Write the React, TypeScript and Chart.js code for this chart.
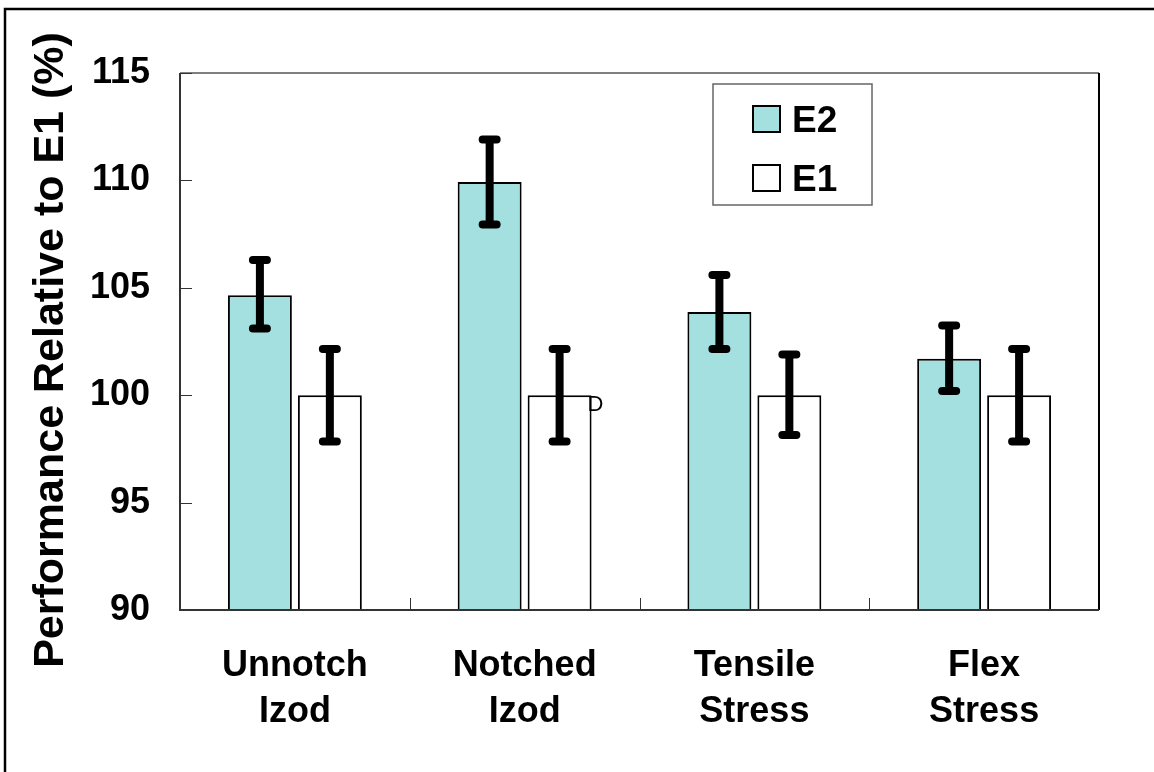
import React, { useEffect, useRef } from "react";
import { Chart, registerables } from "chart.js";

Chart.register(...registerables);

const categories: string[][] = [
  ["Unnotch", "Izod"],
  ["Notched", "Izod"],
  ["Tensile", "Stress"],
  ["Flex", "Stress"],
];
const seriesNames = ["E2", "E1"];
const e2Values = [104.65, 109.93, 103.87, 101.7];
const e2High = [106.3, 111.9, 105.6, 103.25];
const e2Low = [103.1, 107.95, 102.15, 100.2];
const e1Values = [100, 100, 100, 100];
const e1High = [102.15, 102.15, 101.9, 102.15];
const e1Low = [97.85, 97.85, 98.15, 97.85];
const yTicks = [90, 95, 100, 105, 110, 115];
const yTitle = "Performance Relative to E1 (%)";
const strayMark = { text: "D", category: 1, value: 99.55 };

const FONT = "'Liberation Sans', Arial, Helvetica, sans-serif";
const E2_COLOR = "#A4E0E0";

const decorPlugin = {
  id: "decor",
  afterDatasetsDraw(chart: any) {
    const { ctx, chartArea } = chart;
    const xs = chart.scales.x;
    const ys = chart.scales.y;
    ctx.save();
    // error bars
    const errs = [
      [e2Low, e2High],
      [e1Low, e1High],
    ];
    errs.forEach(([lo, hi], di) => {
      const meta = chart.getDatasetMeta(di);
      meta.data.forEach((bar: any, i: number) => {
        const x = bar.x;
        const yl = ys.getPixelForValue(lo[i]);
        const yh = ys.getPixelForValue(hi[i]);
        ctx.strokeStyle = "#000";
        ctx.lineWidth = 8;
        ctx.lineCap = "round";
        ctx.beginPath();
        ctx.moveTo(x, yl);
        ctx.lineTo(x, yh);
        ctx.moveTo(x - 7, yl);
        ctx.lineTo(x + 7, yl);
        ctx.moveTo(x - 7, yh);
        ctx.lineTo(x + 7, yh);
        ctx.stroke();
      });
    });
    ctx.lineCap = "butt";
    // plot border
    const { left, right, top, bottom } = chartArea;
    ctx.lineWidth = 2;
    ctx.strokeStyle = "#808080";
    ctx.beginPath();
    ctx.moveTo(left, top);
    ctx.lineTo(right, top);
    ctx.stroke();
    ctx.strokeStyle = "#000";
    ctx.beginPath();
    ctx.moveTo(right, top);
    ctx.lineTo(right, bottom);
    ctx.stroke();
    ctx.strokeStyle = "#333";
    ctx.beginPath();
    ctx.moveTo(left, top);
    ctx.lineTo(left, bottom);
    ctx.lineTo(right, bottom);
    ctx.stroke();
    // inside ticks
    ctx.lineWidth = 1;
    ctx.strokeStyle = "#333";
    ctx.beginPath();
    yTicks.forEach((v) => {
      const y = Math.round(ys.getPixelForValue(v)) + 0.5;
      ctx.moveTo(left, y);
      ctx.lineTo(left + 12, y);
    });
    for (let i = 1; i < categories.length; i++) {
      const x = Math.round((xs.getPixelForValue(i - 1) + xs.getPixelForValue(i)) / 2) + 0.5;
      ctx.moveTo(x, bottom);
      ctx.lineTo(x, bottom - 12);
    }
    ctx.stroke();
    // legend
    const lx = left + 533;
    const ly = top + 11;
    ctx.fillStyle = "#fff";
    ctx.fillRect(lx, ly, 159, 121);
    ctx.strokeStyle = "#666";
    ctx.lineWidth = 1.5;
    ctx.strokeRect(lx, ly, 159, 121);
    const fills = [E2_COLOR, "#fff"];
    seriesNames.forEach((name, i) => {
      const sy = ly + 22 + i * 59;
      ctx.fillStyle = fills[i];
      ctx.fillRect(lx + 40, sy, 27, 26);
      ctx.strokeStyle = "#000";
      ctx.lineWidth = 2;
      ctx.strokeRect(lx + 40, sy, 27, 26);
      ctx.fillStyle = "#000";
      ctx.font = `bold 37px ${FONT}`;
      ctx.textBaseline = "alphabetic";
      ctx.textAlign = "left";
      ctx.fillText(name, lx + 79, sy + 26);
    });
    // stray mark
    const m = chart.getDatasetMeta(1).data[strayMark.category] as any;
    ctx.font = `22px ${FONT}`;
    ctx.fillStyle = "#000";
    ctx.textBaseline = "middle";
    ctx.fillText(strayMark.text, m.x + m.width / 2 - 4, ys.getPixelForValue(strayMark.value));
    // y title
    ctx.save();
    ctx.translate(51, 350);
    ctx.rotate(-Math.PI / 2);
    ctx.font = `bold 43px ${FONT}`;
    ctx.textAlign = "center";
    ctx.textBaseline = "middle";
    ctx.fillText(yTitle, 0, 0);
    ctx.restore();
    // outer frame
    ctx.strokeStyle = "#000";
    ctx.lineWidth = 2.5;
    ctx.beginPath();
    ctx.moveTo(5, 800);
    ctx.lineTo(5, 9);
    ctx.lineTo(1200, 9);
    ctx.stroke();
    ctx.restore();
  },
};

export default function App() {
  const ref = useRef<HTMLCanvasElement>(null);
  useEffect(() => {
    if (!ref.current) return;
    Chart.defaults.font.family = FONT;
    const chart = new Chart(ref.current, {
      type: "bar",
      data: {
        labels: categories,
        datasets: [
          {
            label: seriesNames[0],
            data: e2Values,
            backgroundColor: E2_COLOR,
            borderColor: "#000",
            borderWidth: 2,
            categoryPercentage: 0.609,
            barPercentage: 0.914,
          },
          {
            label: seriesNames[1],
            data: e1Values,
            backgroundColor: "#fff",
            borderColor: "#000",
            borderWidth: 2,
            categoryPercentage: 0.609,
            barPercentage: 0.914,
          },
        ],
      },
      options: {
        animation: false,
        responsive: false,
        events: [],
        layout: { padding: { top: 73, right: 55, left: 0, bottom: 0 } },
        plugins: { legend: { display: false }, tooltip: { enabled: false } },
        scales: {
          x: {
            grid: { display: false, drawTicks: false },
            border: { display: false },
            ticks: {
              color: "#000",
              padding: 33,
              font: { size: 36, weight: "bold", lineHeight: 1.28 },
              maxRotation: 0,
              autoSkip: false,
            },
            afterFit: (s: any) => {
              s.height = 162;
            },
          },
          y: {
            min: 90,
            max: 115,
            grid: { display: false, drawTicks: false },
            border: { display: false },
            afterBuildTicks: (s: any) => {
              s.ticks = yTicks.map((v) => ({ value: v }));
            },
            ticks: {
              color: "#000",
              padding: 30,
              font: { size: 36, weight: "bold" },
            },
            afterFit: (s: any) => {
              s.width = 180;
            },
          },
        },
      },
      plugins: [decorPlugin],
    });
    return () => chart.destroy();
  }, []);
  return (
    <div style={{ position: "fixed", left: 0, top: 0, width: 1154, height: 772, background: "#fff" }}>
      <canvas ref={ref} width={1154} height={772} style={{ width: 1154, height: 772, display: "block" }} />
    </div>
  );
}
